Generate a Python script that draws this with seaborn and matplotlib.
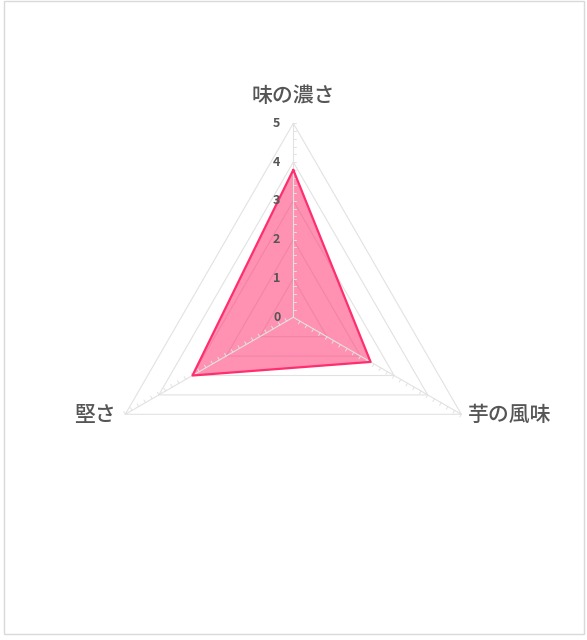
import numpy as np
import matplotlib
matplotlib.use("Agg")
import matplotlib.pyplot as plt
from matplotlib.patches import Rectangle
import seaborn as sns

# chart data
categories = ["味の濃さ", "芋の風味", "堅さ"]
values = [3.8, 2.3, 3.0]
levels = [0, 1, 2, 3, 4, 5]

sns.set_theme(style="white")
plt.rcParams["font.family"] = ["Noto Sans CJK JP", "DejaVu Sans"]

GRID = "#e2e2e2"
TEXT = "#555555"
FILL = "#ff3c78"
LINE = "#ff2e6e"

fig = plt.figure(figsize=(5.87, 6.40), dpi=100)
fig.patch.set_facecolor("white")
fig.patches.append(Rectangle((3.5 / 587, 6.5 / 640), 580 / 587, 633 / 640,
                             transform=fig.transFigure, fill=False,
                             edgecolor="#d9d9d9", lw=1))

ax = fig.add_axes([(293.3 - 194) / 587, (640 - 317.3 - 194) / 640,
                   388 / 587, 388 / 640], projection="polar")
ax.set_theta_offset(np.pi / 2)
ax.set_theta_direction(-1)
ax.set_ylim(0, levels[-1])
ax.set_xticks([])
ax.set_yticks([])
ax.grid(False)
ax.spines["polar"].set_visible(False)
ax.patch.set_alpha(0)

n = len(categories)
angles = np.arange(n) * 2 * np.pi / n
ang_closed = np.append(angles, 2 * np.pi)

# polygon grid
for lv in levels[1:]:
    ax.plot(ang_closed, [lv] * (n + 1), color=GRID, lw=0.8, zorder=1,
            clip_on=False)

# data series
vals_closed = values + values[:1]
ax.fill(ang_closed, vals_closed, color=FILL, alpha=0.56, lw=0, zorder=2)
sns.lineplot(x=ang_closed, y=vals_closed, sort=False, estimator=None,
             color=LINE, lw=1.6, ax=ax, zorder=4)

# spokes with minor tick marks
tick_len = 0.08
minor = np.arange(0.2, levels[-1] + 0.01, 0.2)
for a in angles:
    ax.plot([a, a], [0, levels[-1]], color=GRID, lw=0.8, zorder=3,
            clip_on=False)
    for r in minor:
        ax.plot([a, a + np.arctan(tick_len / r)],
                [r, np.hypot(r, tick_len)], color=GRID, lw=0.7, zorder=3,
                clip_on=False)

# scale labels
for lv in levels:
    ax.annotate(str(lv), xy=(0, lv), xytext=(-12, 0),
                textcoords="offset points", ha="center", va="center",
                fontsize=9, fontweight="bold", color=TEXT, zorder=5)

# category labels
label_pos = [((0, 19.5), "center"), ((5, -0.5), "left"), ((-6.5, -0.5), "right")]
for a, name, (off, ha) in zip(angles, categories, label_pos):
    ax.annotate(name, xy=(a, levels[-1]), xytext=off,
                textcoords="offset points", ha=ha, va="center",
                fontsize=15, fontweight="medium", color=TEXT)

fig.savefig("out.png", dpi=100)
